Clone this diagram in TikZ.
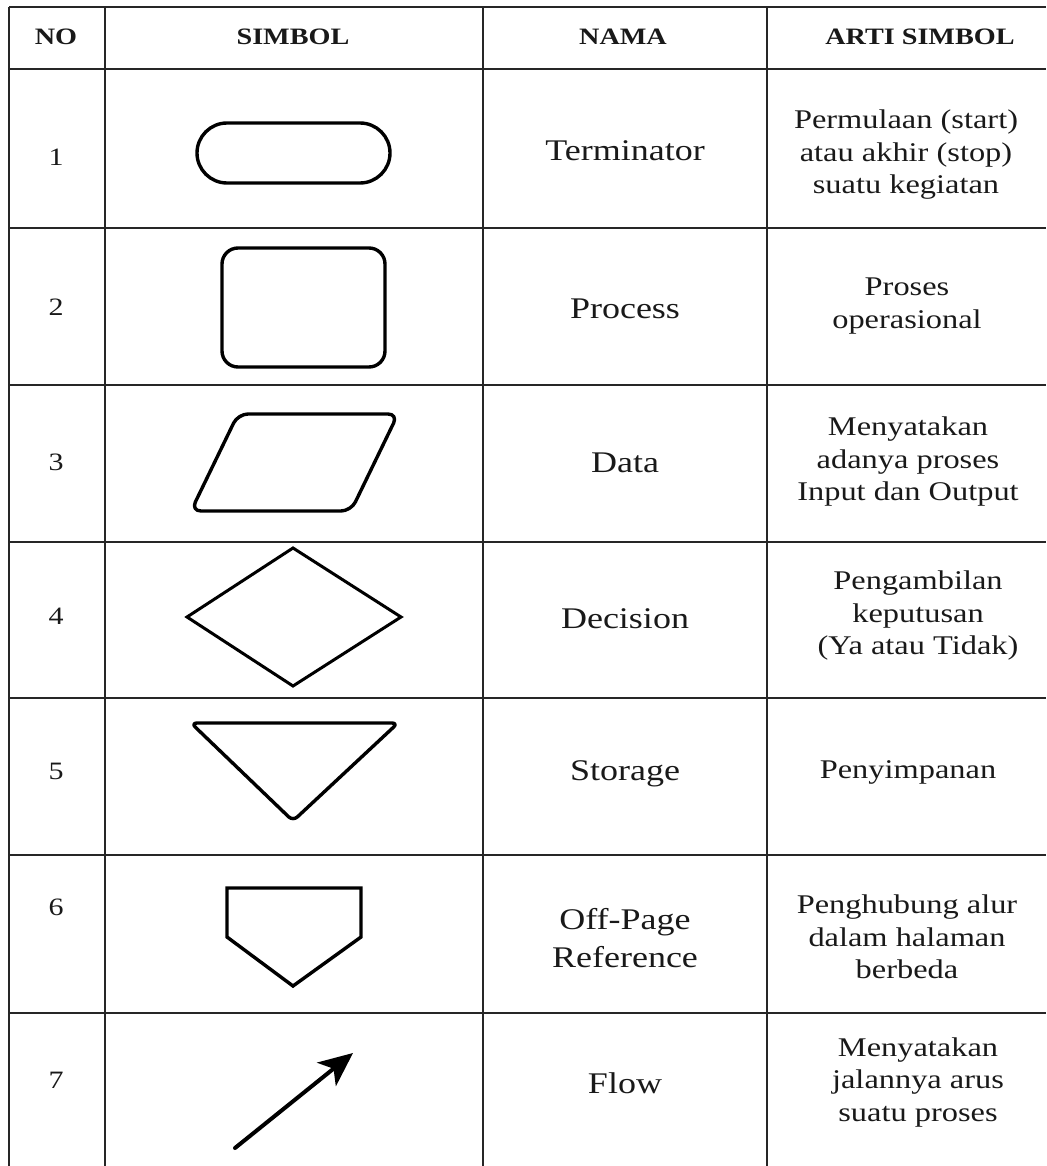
\documentclass[tikz,border=0pt]{standalone}
\usepackage{fontspec}
\setmainfont{Liberation Serif}[FakeStretch=1.2]
\usetikzlibrary{arrows.meta}

\begin{document}
\begin{tikzpicture}
    [x=1pt,y=-1pt,every node/.style={inner sep=0pt, align=center, text=black!90},
     grid/.style={line width=1.8pt, black!85},
     symb/.style={line width=3.4pt, line join=round},
     head/.style={font=\fontsize{23.5}{28}\selectfont\bfseries},
     num/.style={font=\fontsize{25}{30}\selectfont},
     nama/.style={font=\fontsize{30}{38}\selectfont},
     arti/.style={font=\fontsize{27}{32.5}\selectfont}]
  \useasboundingbox (0,0) rectangle (1046,1166);

  % table lines
  \foreach \y in {7,69,228,385,542,698,855,1013}
    \draw[grid] (9,\y) -- (1046,\y);
  \foreach \x in {9,105,483,767}
    \draw[grid] (\x,7) -- (\x,1166);

  % header
  \node[head] (hNo) at (56,37) {NO};
  \node[head] (hSimbol) at (293,37) {SIMBOL};
  \node[head] (hNama) at (623,37) {NAMA};
  \node[head] (hArti) at (920,37) {ARTI SIMBOL};

  \foreach \i/\y in {1/157,2/307,3/462,4/616,5/771,6/907,7/1080}
    \node[num] (no\i) at (56,\y) {\i};

  \foreach \i/\y/\txt in {1/151/Terminator, 2/309/Process, 3/463/Data, 4/619/Decision,
      5/774/Storage, 6/938/{Off-Page\\Reference}, 7/1083/Flow}
    \node[nama] (nm\i) at (625,\y) {\txt};

  \foreach \i/\x/\y/\txt in {1/906/155/{Permulaan (start)\\atau akhir (stop)\\suatu kegiatan},
      2/907/306/{Proses\\operasional},
      3/908/462/{Menyatakan\\adanya proses\\Input dan Output},
      4/918/616/{Pengambilan\\keputusan\\(Ya atau Tidak)},
      5/908/772/Penyimpanan,
      6/907/937/{Penghubung alur\\dalam halaman\\berbeda},
      7/918/1082/{Menyatakan\\jalannya arus\\suatu proses}}
    \node[arti] (ar\i) at (\x,\y) {\txt};

  % symbols
  \draw[symb, rounded corners=30pt] (197,123) rectangle (390,183);
  \draw[symb, rounded corners=16pt] (222,248) rectangle (385,367);
  \draw[symb, rounded corners=10pt] (238,414) -- (398,414) -- (351,511) -- (191,511) -- cycle;
  \draw[symb, line width=3pt, line join=miter] (293,548) -- (401,617) -- (293,686) -- (187,617) -- cycle;
  \draw[symb, rounded corners=6pt] (191,723) -- (398,723) -- (293,821) -- cycle;
  \draw[symb, line join=miter] (227,888) -- (361,888) -- (361,937) -- (293,986) -- (227,937) -- cycle;

  \coordinate (flowA) at (235,1148);
  \coordinate (flowB) at (353,1053);
  \draw[line width=4pt, line cap=round, -{Stealth[length=34pt,width=30pt,inset=9pt]}] (flowA) -- (flowB);
\end{tikzpicture}
\end{document}
